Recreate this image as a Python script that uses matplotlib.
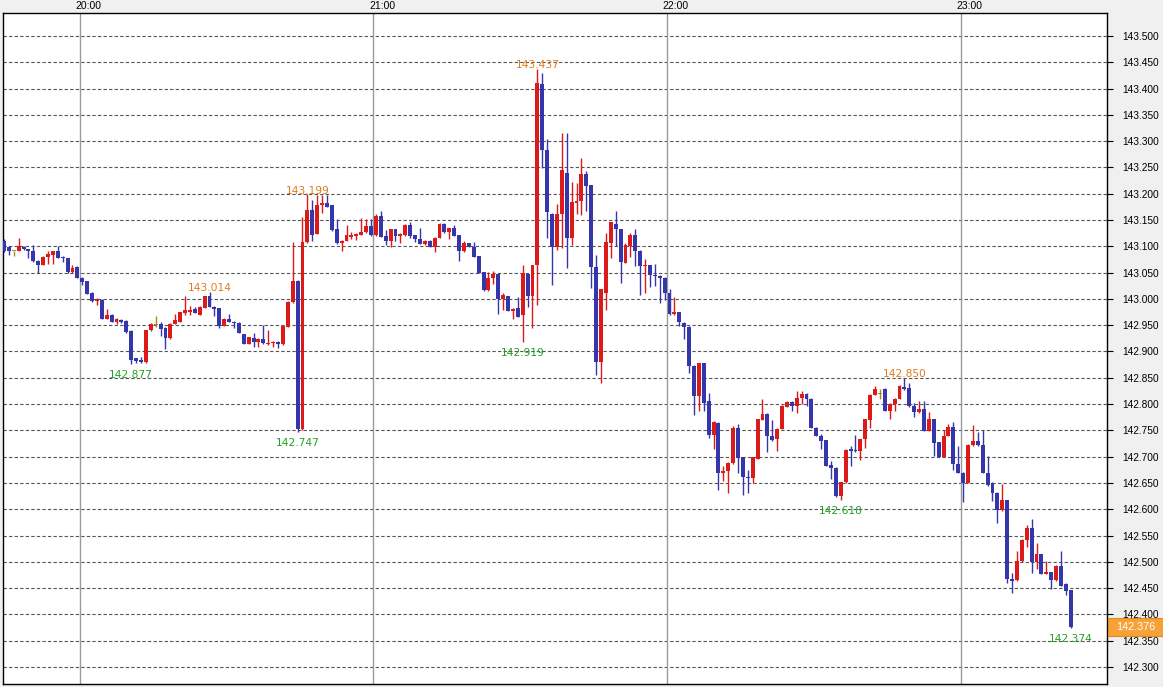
import numpy as np
import pandas as pd
import matplotlib.pyplot as plt
from matplotlib.patches import Rectangle

# 1分足 19:44 - 23:02
start = '2024-01-01 19:44'
opens = [143.111, 143.099, 143.091, 143.091, 143.099, 143.094, 143.091, 143.073, 143.065, 143.080,
         143.084, 143.091, 143.080, 143.077, 143.051, 143.061, 143.040, 143.034, 143.011, 142.996,
         142.998, 142.962, 142.970, 142.957, 142.960, 142.958, 142.939, 142.887, 142.883, 142.880,
         142.940, 142.950, 142.953, 142.945, 142.925, 142.953, 142.957, 142.973, 142.975, 142.980,
         142.970, 142.982, 143.006, 142.985, 142.982, 142.949, 142.962, 142.957, 142.955, 142.933,
         142.915, 142.926, 142.919, 142.924, 142.914, 142.916, 142.919, 142.914, 142.947, 142.994,
         143.035, 142.752, 143.108, 143.169, 143.124, 143.178, 143.182, 143.178, 143.133, 143.106,
         143.111, 143.117, 143.119, 143.122, 143.127, 143.138, 143.121, 143.157, 143.119, 143.110,
         143.132, 143.119, 143.121, 143.140, 143.121, 143.113, 143.105, 143.111, 143.099, 143.116,
         143.142, 143.127, 143.134, 143.121, 143.091, 143.106, 143.099, 143.081, 143.051, 143.016,
         143.040, 143.047, 142.999, 143.005, 142.977, 142.983, 142.969, 143.047, 143.005, 143.064,
         143.409, 143.284, 143.162, 143.099, 143.161, 143.240, 143.115, 143.183, 143.186, 143.237,
         143.216, 143.060, 142.880, 143.011, 143.107, 143.143, 143.132, 143.069, 143.101, 143.121,
         143.092, 143.062, 143.064, 143.046, 143.044, 143.040, 143.011, 142.971, 142.975, 142.955,
         142.947, 142.873, 142.815, 142.878, 142.805, 142.742, 142.764, 142.669, 142.672, 142.688,
         142.755, 142.699, 142.662, 142.659, 142.696, 142.770, 142.782, 142.740, 142.733, 142.753,
         142.795, 142.804, 142.797, 142.811, 142.820, 142.810, 142.755, 142.740, 142.731, 142.685,
         142.679, 142.626, 142.651, 142.714, 142.713, 142.710, 142.733, 142.770, 142.818, 142.820,
         142.829, 142.787, 142.801, 142.810, 142.833, 142.831, 142.797, 142.785, 142.790, 142.749,
         142.771, 142.727, 142.700, 142.740, 142.757, 142.687, 142.669, 142.650, 142.722, 142.730,
         142.723, 142.669, 142.650, 142.631, 142.598, 142.617, 142.468, 142.465, 142.501, 142.542,
         142.564, 142.500, 142.514, 142.477, 142.480, 142.465, 142.493, 142.457, 142.446]
highs = [143.113, 143.100, 143.092, 143.115, 143.101, 143.095, 143.102, 143.074, 143.081, 143.092,
         143.092, 143.100, 143.081, 143.078, 143.064, 143.062, 143.041, 143.035, 143.013, 143.001,
         142.999, 142.981, 142.971, 142.963, 142.962, 142.960, 142.940, 142.888, 142.890, 142.941,
         142.954, 142.968, 142.957, 142.946, 142.954, 142.972, 142.976, 143.006, 142.987, 142.984,
         142.987, 143.006, 143.014, 142.986, 142.983, 142.963, 142.971, 142.958, 142.956, 142.934,
         142.928, 142.936, 142.925, 142.951, 142.940, 142.920, 142.920, 142.950, 142.996, 143.109,
         143.036, 143.156, 143.199, 143.189, 143.197, 143.197, 143.197, 143.179, 143.152, 143.112,
         143.141, 143.128, 143.126, 143.154, 143.152, 143.152, 143.161, 143.167, 143.131, 143.133,
         143.133, 143.125, 143.143, 143.146, 143.122, 143.134, 143.112, 143.112, 143.117, 143.144,
         143.144, 143.135, 143.140, 143.122, 143.111, 143.107, 143.108, 143.082, 143.052, 143.051,
         143.053, 143.048, 143.011, 143.006, 142.982, 143.004, 143.064, 143.048, 143.065, 143.437,
         143.430, 143.305, 143.163, 143.180, 143.316, 143.316, 143.223, 143.220, 143.268, 143.244,
         143.217, 143.084, 143.019, 143.126, 143.147, 143.167, 143.133, 143.106, 143.125, 143.132,
         143.093, 143.075, 143.065, 143.067, 143.045, 143.041, 143.019, 143.004, 142.976, 142.956,
         142.948, 142.874, 142.879, 142.879, 142.821, 142.767, 142.765, 142.682, 142.689, 142.758,
         142.762, 142.700, 142.675, 142.700, 142.772, 142.809, 142.783, 142.769, 142.754, 142.798,
         142.806, 142.805, 142.825, 142.825, 142.821, 142.811, 142.756, 142.743, 142.732, 142.691,
         142.680, 142.652, 142.714, 142.721, 142.742, 142.734, 142.772, 142.819, 142.834, 142.829,
         142.830, 142.802, 142.811, 142.837, 142.850, 142.840, 142.802, 142.806, 142.806, 142.785,
         142.772, 142.728, 142.751, 142.762, 142.765, 142.720, 142.670, 142.724, 142.760, 142.746,
         142.750, 142.702, 142.651, 142.632, 142.648, 142.618, 142.479, 142.520, 142.543, 142.571,
         142.581, 142.536, 142.515, 142.501, 142.481, 142.494, 142.520, 142.460, 142.447]
lows = [143.090, 143.083, 143.082, 143.091, 143.093, 143.077, 143.071, 143.050, 143.064, 143.067,
        143.067, 143.077, 143.070, 143.050, 143.050, 143.039, 143.027, 143.009, 142.994, 142.988,
        142.961, 142.961, 142.956, 142.953, 142.955, 142.936, 142.877, 142.878, 142.879, 142.879,
        142.939, 142.947, 142.929, 142.905, 142.924, 142.952, 142.956, 142.970, 142.970, 142.973,
        142.970, 142.982, 142.984, 142.968, 142.945, 142.948, 142.957, 142.945, 142.935, 142.914,
        142.914, 142.909, 142.909, 142.915, 142.913, 142.909, 142.907, 142.913, 142.946, 142.993,
        142.747, 142.750, 143.107, 143.111, 143.123, 143.163, 143.174, 143.130, 143.105, 143.092,
        143.110, 143.114, 143.112, 143.121, 143.126, 143.120, 143.120, 143.117, 143.102, 143.099,
        143.110, 143.106, 143.120, 143.115, 143.109, 143.104, 143.102, 143.098, 143.089, 143.115,
        143.125, 143.113, 143.119, 143.073, 143.089, 143.098, 143.079, 143.049, 143.015, 143.015,
        143.029, 142.972, 142.978, 142.977, 142.962, 142.965, 142.919, 142.985, 142.945, 142.988,
        143.248, 143.115, 143.026, 143.093, 143.097, 143.058, 143.102, 143.162, 143.159, 143.167,
        143.021, 142.855, 142.841, 142.978, 143.077, 143.101, 143.031, 143.068, 143.080, 143.063,
        143.007, 143.012, 143.023, 143.025, 142.992, 142.998, 142.970, 142.970, 142.948, 142.923,
        142.860, 142.780, 142.786, 142.786, 142.736, 142.715, 142.636, 142.653, 142.631, 142.687,
        142.669, 142.628, 142.630, 142.649, 142.695, 142.769, 142.708, 142.730, 142.710, 142.752,
        142.794, 142.787, 142.783, 142.801, 142.797, 142.754, 142.739, 142.715, 142.682, 142.658,
        142.624, 142.618, 142.650, 142.682, 142.709, 142.694, 142.716, 142.755, 142.817, 142.809,
        142.786, 142.772, 142.787, 142.809, 142.827, 142.795, 142.776, 142.783, 142.748, 142.748,
        142.702, 142.699, 142.699, 142.739, 142.675, 142.668, 142.614, 142.649, 142.720, 142.720,
        142.668, 142.645, 142.615, 142.574, 142.597, 142.460, 142.441, 142.464, 142.500, 142.528,
        142.479, 142.487, 142.476, 142.476, 142.449, 142.464, 142.455, 142.437, 142.374]
closes = [143.091, 143.091, 143.091, 143.100, 143.094, 143.092, 143.072, 143.065, 143.080, 143.085,
          143.091, 143.078, 143.077, 143.051, 143.059, 143.040, 143.032, 143.010, 142.996, 143.000,
          142.962, 142.970, 142.957, 142.962, 142.956, 142.937, 142.884, 142.882, 142.880, 142.940,
          142.953, 142.950, 142.943, 142.925, 142.953, 142.959, 142.975, 142.978, 142.979, 142.973,
          142.984, 143.006, 142.984, 142.981, 142.949, 142.962, 142.957, 142.954, 142.935, 142.915,
          142.927, 142.919, 142.924, 142.916, 142.917, 142.919, 142.914, 142.949, 142.995, 143.035,
          142.752, 143.108, 143.170, 143.121, 143.178, 143.182, 143.175, 143.131, 143.106, 143.111,
          143.121, 143.122, 143.124, 143.128, 143.138, 143.121, 143.157, 143.118, 143.110, 143.132,
          143.120, 143.124, 143.140, 143.120, 143.113, 143.105, 143.111, 143.099, 143.116, 143.142,
          143.127, 143.134, 143.120, 143.091, 143.106, 143.099, 143.080, 143.050, 143.016, 143.040,
          143.047, 142.999, 143.007, 142.977, 142.981, 142.966, 143.049, 143.005, 143.064, 143.410,
          143.284, 143.166, 143.099, 143.161, 143.245, 143.115, 143.185, 143.186, 143.237, 143.215,
          143.061, 142.880, 143.018, 143.108, 143.146, 143.132, 143.070, 143.102, 143.121, 143.092,
          143.062, 143.064, 143.046, 143.043, 143.040, 143.011, 142.971, 142.975, 142.957, 142.947,
          142.873, 142.815, 142.878, 142.803, 142.742, 142.765, 142.669, 142.673, 142.688, 142.755,
          142.698, 142.661, 142.659, 142.699, 142.771, 142.782, 142.740, 142.731, 142.753, 142.797,
          142.804, 142.797, 142.812, 142.820, 142.810, 142.755, 142.740, 142.729, 142.683, 142.679,
          142.626, 142.651, 142.713, 142.711, 142.710, 142.733, 142.771, 142.818, 142.829, 142.820,
          142.787, 142.801, 142.810, 142.834, 142.829, 142.796, 142.785, 142.790, 142.749, 142.771,
          142.726, 142.700, 142.740, 142.756, 142.686, 142.669, 142.650, 142.723, 142.730, 142.722,
          142.669, 142.647, 142.631, 142.598, 142.617, 142.468, 142.463, 142.501, 142.542, 142.564,
          142.500, 142.515, 142.477, 142.480, 142.465, 142.493, 142.455, 142.444, 142.376]

# 高値・安値ラベル (足の番号, 'high' / 'low')
mark_idx = [26, 42, 60, 62, 106, 109, 171, 184, 218]
mark_kind = ['low', 'high', 'low', 'high', 'low', 'high', 'low', 'high', 'low']

current_price = 142.376

df = pd.DataFrame({'open': opens, 'high': highs, 'low': lows, 'close': closes},
                  index=pd.date_range(start, periods=len(opens), freq='min'))
x = np.arange(len(df))

c_up = '#dc1a1a'
c_down = '#3535ac'
c_doji = '#a88a1c'
colors = np.where(df['close'] > df['open'], c_up,
                  np.where(df['close'] < df['open'], c_down, c_doji))

fig = plt.figure(figsize=(11.63, 6.87), dpi=100, facecolor='#f0f0f0')
ax = fig.add_axes([3 / 1163, 3 / 687, 1104 / 1163, 671 / 687])
ax.set_facecolor('white')

ymin, ymax = 142.2677, 143.5437
ax.set_xlim(-0.2, 225.4)
ax.set_ylim(ymin, ymax)

# グリッド
for t in np.arange(142.30, 143.501, 0.05):
    ax.axhline(t, color='#555555', lw=0.8, ls=(0, (3, 2)), zorder=1)
hours = [i for i, t in enumerate(df.index) if t.minute == 0]
for i in hours:
    ax.axvline(i - 0.5, color='#9a9a9a', lw=1.0, zorder=1)
    ax.annotate(df.index[i].strftime('%H:%M'), (i - 0.5, ymax), xytext=(-3, 1.5),
                textcoords='offset points', ha='left', va='bottom',
                fontsize=7.5, family='Liberation Sans', color='black')

# ローソク足
ax.vlines(x, df['low'], df['high'], colors=colors, lw=1.0, zorder=2)
body_lo = np.minimum(df['open'], df['close'])
body_h = np.maximum(np.abs(df['close'] - df['open']), 0.0016)
ax.bar(x, body_h, bottom=body_lo, width=0.8, color=colors, linewidth=0, zorder=3)

# 高値・安値
for i, k in zip(mark_idx, mark_kind):
    if k == 'high':
        v = df['high'].iloc[i]
        ax.annotate(f'{v:.3f}', (i, v), xytext=(0, 0.5), textcoords='offset points',
                    ha='center', va='baseline', fontsize=7.7, color='#e07a1e', zorder=4)
    else:
        v = df['low'].iloc[i]
        ax.annotate(f'{v:.3f}', (i, v), xytext=(0, -4.5), textcoords='offset points',
                    ha='center', va='top', fontsize=7.7, color='#22a022', zorder=4)

ax.yaxis.tick_right()
ticks = np.arange(142.30, 143.501, 0.05)
ax.set_yticks(ticks)
ax.set_yticklabels([f'{v:.3f}' for v in ticks], fontsize=7.3, family='Liberation Sans')
ax.tick_params(axis='y', direction='out', length=4, width=0.8, pad=7, colors='black')
ax.set_xticks([])
for s in ax.spines.values():
    s.set_color('black')
    s.set_linewidth(1.0)

# 現在値
fig.canvas.draw()
yd = ax.transData.transform((0, current_price))[1]
fig.patches.append(Rectangle((1108 / 1163, (yd - 9) / 687), 55 / 1163, 18 / 687,
                             transform=fig.transFigure, facecolor='#f7a236',
                             edgecolor='#e08a20', lw=0.8, zorder=5))
fig.text(1136 / 1163, yd / 687, f'{current_price:.3f}', ha='center', va='center',
         fontsize=7.8, family='Liberation Sans', color='white', zorder=6)

fig.savefig('out.png', dpi=100, facecolor=fig.get_facecolor())
